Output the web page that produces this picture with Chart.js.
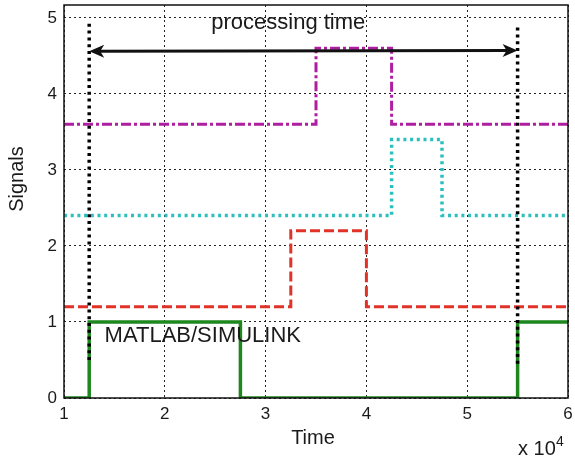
<!DOCTYPE html>
<html lang="en">
<head>
    <meta charset="UTF-8">
    <title>Signals vs Time</title>
    <style>
        body { margin: 0; background: #fff; }
        canvas { display: block; }
    </style>
</head>
<body>
    <canvas id="chart" width="575" height="459"></canvas>
    <script src="https://cdn.jsdelivr.net/npm/chart.js"></script>
    <script>
        // tick values
        const xTicks = [10000, 20000, 30000, 40000, 50000, 60000];
        const yTicks = [0, 1, 2, 3, 4, 5];

        // step signals: time where the level changes, and the new level
        const greenTime = [10000, 12500, 27500, 55000, 60000];
        const greenLevel = [0, 1, 0, 1, 1];
        const redTime = [10000, 32500, 40000, 60000];
        const redLevel = [1.2, 2.2, 1.2, 1.2];
        const cyanTime = [10000, 42500, 47500, 60000];
        const cyanLevel = [2.4, 3.4, 2.4, 2.4];
        const magentaTime = [10000, 35000, 42500, 60000];
        const magentaLevel = [3.6, 4.6, 3.6, 3.6];

        // processing time markers
        const startTime = [12500, 12500];
        const startLevel = [0.5, 4.96];
        const endTime = [55000, 55000];
        const endLevel = [0.45, 4.89];
        const arrowTime = [12500, 55000];
        const arrowLevel = [4.56, 4.57];

        const FONT = '"Liberation Sans", Arial, Helvetica, sans-serif';

        const toPoints = (xs, ys) => xs.map((x, i) => ({ x: x, y: ys[i] }));

        function step(label, xs, ys, color, dash, width) {
            return {
                label: label,
                data: toPoints(xs, ys),
                borderColor: color,
                borderWidth: width,
                borderDash: dash,
                stepped: 'before',
                pointRadius: 0,
                fill: false,
                order: 2
            };
        }

        const annotate = {
            id: 'annotate',
            afterDatasetsDraw(chart) {
                const ctx = chart.ctx;
                const xs = chart.scales.x, ys = chart.scales.y;
                const a = chart.chartArea;
                ctx.save();

                // axes box
                ctx.strokeStyle = '#111';
                ctx.lineWidth = 1.5;
                ctx.strokeRect(a.left, a.top, a.right - a.left, a.bottom - a.top);

                // double arrow
                const x1 = xs.getPixelForValue(arrowTime[0]), y1 = ys.getPixelForValue(arrowLevel[0]);
                const x2 = xs.getPixelForValue(arrowTime[1]), y2 = ys.getPixelForValue(arrowLevel[1]);
                ctx.strokeStyle = '#111';
                ctx.fillStyle = '#111';
                ctx.lineWidth = 3;
                ctx.beginPath();
                ctx.moveTo(x1 + 8, y1);
                ctx.lineTo(x2 - 8, y2);
                ctx.stroke();
                const head = (x, y, dir) => {
                    ctx.beginPath();
                    ctx.moveTo(x, y);
                    ctx.lineTo(x - dir * 15, y - 6.5);
                    ctx.lineTo(x - dir * 11, y);
                    ctx.lineTo(x - dir * 15, y + 6.5);
                    ctx.closePath();
                    ctx.fill();
                };
                head(x1, y1, -1);
                head(x2, y2, 1);

                // texts in the plot
                ctx.fillStyle = '#1a1a1a';
                ctx.font = '22px ' + FONT;
                ctx.textBaseline = 'alphabetic';
                ctx.textAlign = 'center';
                ctx.fillText('processing time', xs.getPixelForValue(32250), ys.getPixelForValue(4.85));
                ctx.textAlign = 'left';
                ctx.fillText('MATLAB/SIMULINK', xs.getPixelForValue(14030), ys.getPixelForValue(0.737));
                ctx.restore();
            },
            afterDraw(chart) {
                const ctx = chart.ctx;
                ctx.save();
                ctx.fillStyle = '#1a1a1a';
                ctx.textBaseline = 'middle';
                ctx.textAlign = 'center';
                ctx.font = '20px ' + FONT;
                ctx.fillText('Time', 313, 438);

                ctx.textAlign = 'left';
                ctx.textBaseline = 'alphabetic';
                ctx.fillText('x 10', 518, 455);
                ctx.font = '14px ' + FONT;
                ctx.fillText('4', 556, 446);

                ctx.translate(17, 179);
                ctx.rotate(-Math.PI / 2);
                ctx.textAlign = 'center';
                ctx.textBaseline = 'middle';
                ctx.font = '20px ' + FONT;
                ctx.fillText('Signals', 0, 0);
                ctx.restore();
            }
        };

        new Chart(document.getElementById('chart'), {
            type: 'line',
            data: {
                datasets: [
                    {
                        label: 'start', data: toPoints(startTime, startLevel),
                        borderColor: '#000', borderWidth: 3.5, borderDash: [3, 3.8],
                        pointRadius: 0, order: 0
                    },
                    {
                        label: 'end', data: toPoints(endTime, endLevel),
                        borderColor: '#000', borderWidth: 3.5, borderDash: [3, 3.8],
                        pointRadius: 0, order: 0
                    },
                    step('green', greenTime, greenLevel, 'rgb(30,135,30)', [], 3.5),
                    step('red', redTime, redLevel, 'rgb(225,50,40)', [10, 4], 3),
                    step('cyan', cyanTime, cyanLevel, 'rgb(45,190,190)', [3, 3.7], 3.5),
                    step('magenta', magentaTime, magentaLevel, 'rgb(175,30,160)', [10, 3, 3, 3], 3)
                ]
            },
            options: {
                responsive: false,
                animation: false,
                devicePixelRatio: 1,
                layout: { padding: { top: 5, right: 7, left: 0, bottom: 0 } },
                plugins: { legend: { display: false }, tooltip: { enabled: false } },
                scales: {
                    x: {
                        type: 'linear',
                        min: 10000,
                        max: 60000,
                        afterBuildTicks: s => { s.ticks = xTicks.map(v => ({ value: v })); },
                        afterFit: s => { s.height = 61; s.paddingLeft = 0; s.paddingRight = 0; },
                        ticks: {
                            callback: v => v / 10000,
                            color: '#1a1a1a',
                            font: { family: FONT, size: 17 },
                            padding: 6,
                            maxRotation: 0
                        },
                        grid: { color: '#222', lineWidth: 1, drawTicks: false },
                        border: { display: false, dash: [2, 3] }
                    },
                    y: {
                        min: 0,
                        max: 5.17,
                        afterBuildTicks: s => { s.ticks = yTicks.map(v => ({ value: v })); },
                        afterFit: s => { s.width = 64; s.paddingTop = 0; s.paddingBottom = 0; },
                        ticks: {
                            color: '#1a1a1a',
                            font: { family: FONT, size: 17 },
                            padding: 7
                        },
                        grid: { color: '#222', lineWidth: 1, drawTicks: false },
                        border: { display: false, dash: [2, 3] }
                    }
                }
            },
            plugins: [annotate]
        });
    </script>
</body>
</html>
